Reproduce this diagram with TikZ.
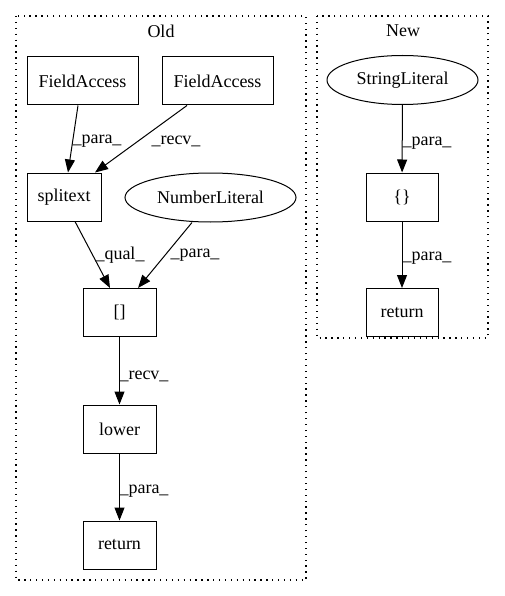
\documentclass[tikz,border=0pt]{standalone}
\usepackage{fontspec}
\setmainfont{Liberation Serif}
\usetikzlibrary{shapes.geometric,arrows.meta}
\begin{document}
\begin{tikzpicture}[x=1pt,y=-1pt,
  every node/.style={font=\fontsize{18}{20}\selectfont},
  boxnode/.style={draw,line width=1pt,rectangle,minimum height=48pt,inner sep=0pt},
  ellnode/.style={draw,line width=1pt,ellipse,minimum height=49pt,inner sep=0pt},
  cluster/.style={line width=1.2pt,dash pattern=on 1.3pt off 4.6pt},
  edge/.style={line width=1pt,-{Triangle[length=13pt,width=10pt]}},
  elabel/.style={inner sep=0pt}]
\useasboundingbox (0,0) rectangle (504,596);
% clusters
\draw[cluster] (16,16) rectangle (306,580);
\draw[cluster] (317,16) rectangle (488,338);
\node[elabel] (oldlbl) at (161,31) {Old};
\node[elabel] (newlbl) at (403,31) {New};
% Old nodes
\node[boxnode,minimum width=111pt] (fa1) at (82.5,81) {FieldAccess};
\node[boxnode,minimum width=111pt] (fa2) at (217.5,81) {FieldAccess};
\node[boxnode,minimum width=74pt] (split) at (64,197) {splitext};
\node[ellnode,minimum width=171pt] (num) at (210.5,197.5) {NumberLiteral};
\node[boxnode,minimum width=73pt] (idx) at (119.5,312.5) {[]};
\node[boxnode,minimum width=73pt] (lower) at (119.5,429) {lower};
\node[boxnode,minimum width=73pt] (ret1) at (119.5,545) {return};
% New nodes
\node[ellnode,minimum width=151pt] (str) at (402.5,80) {StringLiteral};
\node[boxnode,minimum width=72pt] (brace) at (402,197) {\{\}};
\node[boxnode,minimum width=72pt] (ret2) at (402,312.5) {return};
% edges
\draw[edge] (fa1.south -| 78,0) -- (split.north -| 68,0);
\draw[edge] (fa2.south -| 187,0) -- (split.north -| 95,0);
\draw[edge] (split.south -| 75,0) -- (idx.north -| 110,0);
\draw[edge] (num.south -| 192,0) -- (idx.north -| 138,0);
\draw[edge] (idx) -- (lower);
\draw[edge] (lower) -- (ret1);
\draw[edge] (str) -- (brace);
\draw[edge] (brace) -- (ret2);
% edge labels
\node[elabel] (l1) at (97,141) {\_para\_};
\node[elabel] (l2) at (176,141) {\_recv\_};
\node[elabel] (l3) at (120,255) {\_qual\_};
\node[elabel] (l4) at (195,255) {\_para\_};
\node[elabel] (l5) at (144,376) {\_recv\_};
\node[elabel] (l6) at (144,491) {\_para\_};
\node[elabel] (l7) at (427,143) {\_para\_};
\node[elabel] (l8) at (427,258) {\_para\_};
\end{tikzpicture}
\end{document}
